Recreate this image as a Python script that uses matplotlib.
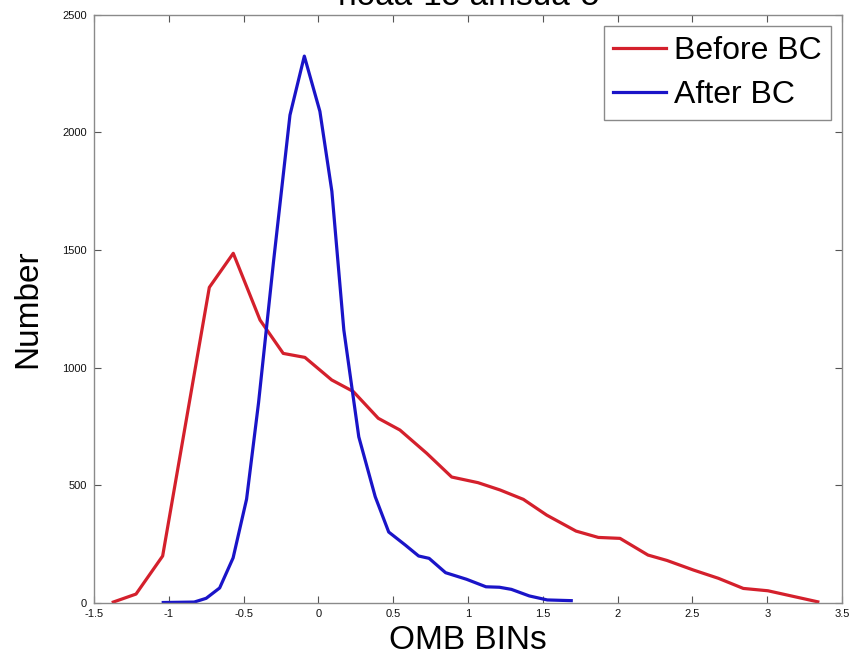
import numpy as np
import matplotlib
matplotlib.use('Agg')
import matplotlib.pyplot as plt

plt.rcParams['font.family'] = ['Liberation Sans', 'DejaVu Sans']

# OMB histogram, before bias correction
before_x = [-1.371, -1.219, -1.041, -0.729, -0.569, -0.390, -0.235, -0.090, 0.089,
            0.233, 0.400, 0.545, 0.724, 0.891, 1.067, 1.214, 1.370, 1.526, 1.722,
            1.871, 2.016, 2.203, 2.330, 2.508, 2.674, 2.840, 3.005, 3.338]
before_n = [2, 36, 198, 1341, 1486, 1202, 1060, 1043, 947,
            898, 784, 734, 635, 534, 510, 479, 439, 372, 304,
            277, 273, 202, 179, 138, 103, 60, 50, 3]

# OMB histogram, after bias correction
after_x = [-1.037, -0.83, -0.75, -0.66, -0.57, -0.48, -0.40, -0.30, -0.19, -0.094,
           0.01, 0.09, 0.17, 0.27, 0.38, 0.47, 0.58, 0.67, 0.74, 0.85,
           0.99, 1.12, 1.21, 1.29, 1.41, 1.53, 1.69]
after_n = [0, 2, 18, 62, 190, 440, 850, 1450, 2074, 2325,
           2090, 1750, 1160, 705, 450, 300, 245, 198, 188, 127,
           99, 67, 65, 56, 28, 11, 8]

xticks = [-1.5, -1, -0.5, 0, 0.5, 1, 1.5, 2, 2.5, 3, 3.5]
xticklabels = ['-1.5', '-1', '-0.5', '0', '0.5', '1', '1.5', '2', '2.5', '3', '3.5']
yticks = [0, 500, 1000, 1500, 2000, 2500]

fig = plt.figure(figsize=(8.52, 6.66), dpi=100)
ax = fig.add_axes([0.1103, 0.0953, 0.878, 0.8822])

ax.plot(before_x, before_n, color='#d4202c', lw=2.3, label='Before BC')
ax.plot(after_x, after_n, color='#1a14c8', lw=2.3, label='After BC')

ax.set_xlim(-1.5, 3.5)
ax.set_ylim(0, 2500)
ax.set_xticks(xticks)
ax.set_xticklabels(xticklabels)
ax.set_yticks(yticks)

for s in ax.spines.values():
    s.set_color('#8a8a8a')
    s.set_linewidth(1.0)
ax.tick_params(direction='in', length=5, width=0.8, color='#555555',
               top=True, right=True, labelsize=8, labelcolor='#111111', pad=5)

ax.set_xlabel('OMB BINs', fontsize=24, labelpad=4)
ax.set_ylabel('Number', fontsize=24, labelpad=14)

# title sits mostly above the figure edge, as in the original
fig.text(0.5497, 0.9925, 'noaa-15 amsua-5', fontsize=24, ha='center', va='baseline')

leg = ax.legend(loc='upper right', fontsize=23, handlelength=1.66, handletextpad=0.22,
                labelspacing=0.45, borderpad=0.3, borderaxespad=0.35,
                fancybox=False, framealpha=1, edgecolor='#8a8a8a')
leg.get_frame().set_linewidth(1.0)

fig.savefig('out.png', dpi=100)
